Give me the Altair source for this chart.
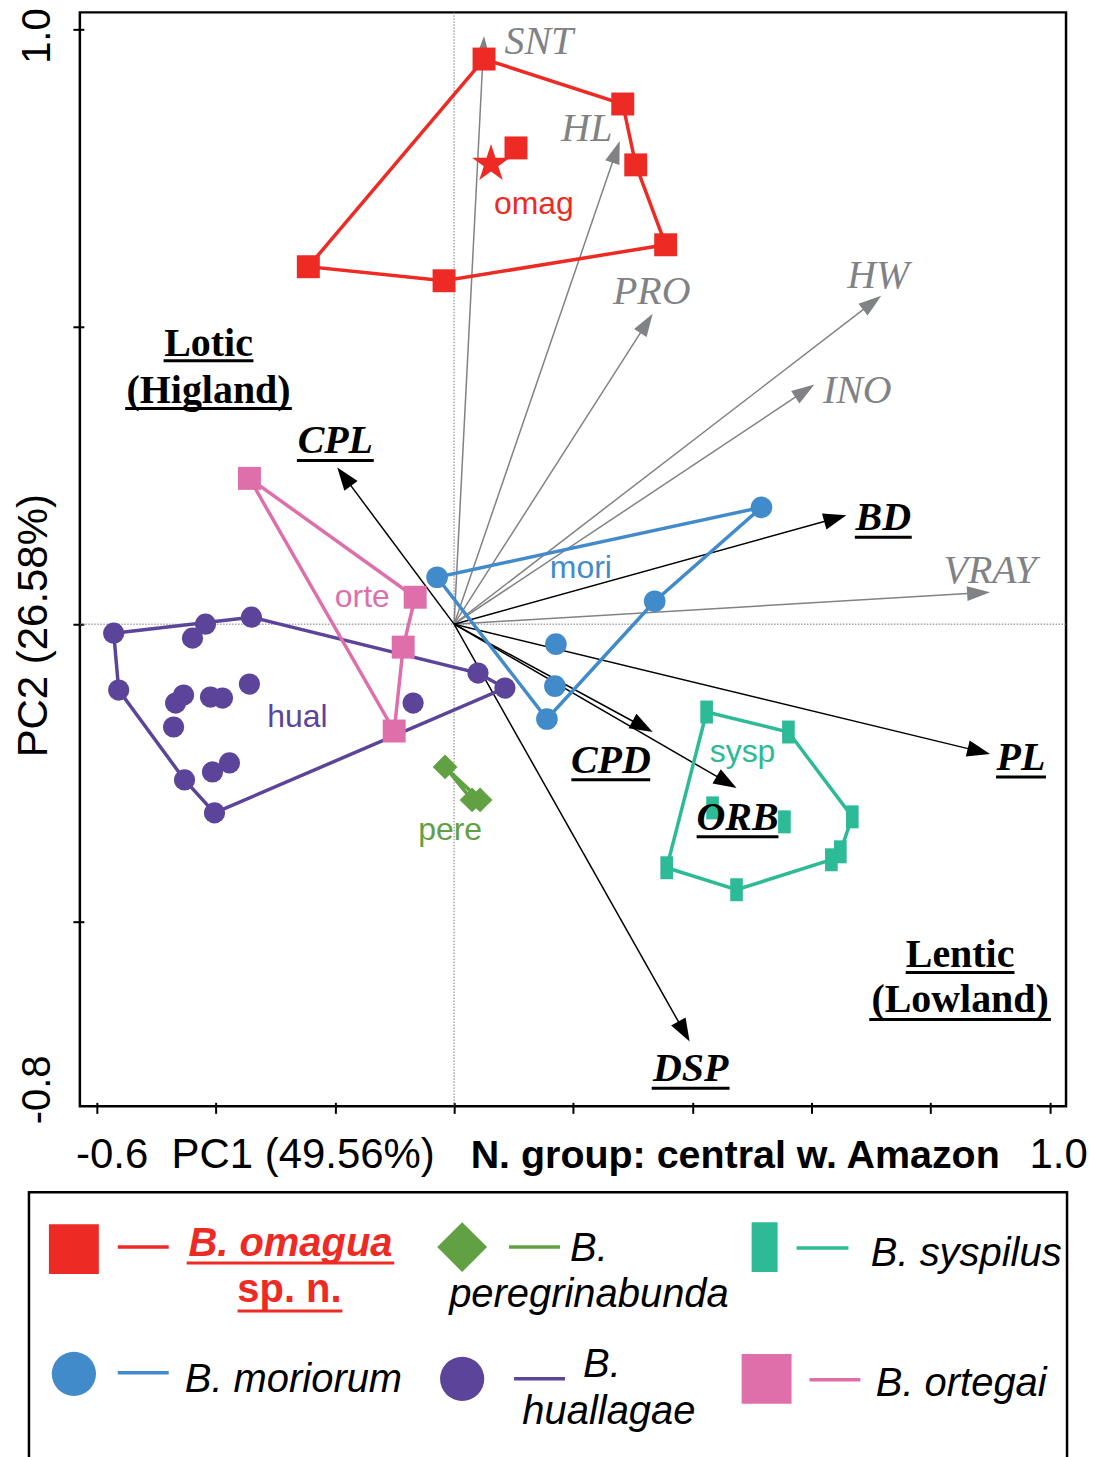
import math
import altair as alt
import pandas as pd

SERIF = "Liberation Serif"
SANS = "Liberation Sans"
GRAY = "#808285"

# ---------------- specimen scores (PC1, PC2) ----------------
GROUPS = ["omagua", "moriorum", "huallagae", "ortegai", "peregrinabunda", "syspilus"]
GROUP_COLORS = ["#ED2A24", "#428BCA", "#5B4499", "#DE6FAB", "#61A043", "#2DBA96"]

omagua_hull_x = [0.0503, 0.2831, 0.3049, 0.3551, -0.0168, -0.2446]
omagua_hull_y = [0.9505, 0.8749, 0.7725, 0.6381, 0.5776, 0.6012]
omagua_in_x = [0.1039]
omagua_in_y = [0.8010]
omagua_type_x = [0.0620]
omagua_type_y = [0.7741]

moriorum_hull_x = [-0.0285, 0.5159, 0.3367, 0.1558]
moriorum_hull_y = [0.0789, 0.1965, 0.0386, -0.1595]
moriorum_in_x = [0.1709, 0.1692]
moriorum_in_y = [-0.0336, -0.1041]

huallagae_hull_x = [-0.5712, -0.5628, -0.4523, -0.4020, 0.0854, 0.0402, -0.3400]
huallagae_hull_y = [-0.0151, -0.1109, -0.2620, -0.3174, -0.1075, -0.0823, 0.0118]
huallagae_in_x = [-0.4389, -0.4171, -0.4673, -0.4539, -0.4707, -0.4087, -0.3886,
                  -0.3434, -0.0687, -0.4054, -0.3769]
huallagae_in_y = [-0.0235, 0.0000, -0.1327, -0.1192, -0.1730, -0.1226, -0.1243,
                  -0.1008, -0.1327, -0.2485, -0.2334]

ortegai_hull_x = [-0.3434, -0.0653, -0.0854, -0.1005]
ortegai_hull_y = [0.2452, 0.0453, -0.0386, -0.1797]
ortegai_in_x = []
ortegai_in_y = []

peregrinabunda_hull_x = [-0.0151, 0.0302, 0.0436]
peregrinabunda_hull_y = [-0.2401, -0.2956, -0.2956]
peregrinabunda_in_x = []
peregrinabunda_in_y = []

syspilus_hull_x = [0.4238, 0.5611, 0.6683, 0.6482, 0.6332, 0.4740, 0.3568]
syspilus_hull_y = [-0.1478, -0.1814, -0.3241, -0.3829, -0.3963, -0.4467, -0.4097]
syspilus_in_x = [0.4338, 0.5544]
syspilus_in_y = [-0.3090, -0.3325]

# ---------------- variable loadings (arrow tips) ----------------
VAR_GRAY = ["SNT", "HL", "PRO", "HW", "INO", "VRAY"]
VAR_GRAY_X = [0.0503, 0.2781, 0.3333, 0.7169, 0.6047, 0.8995]
VAR_GRAY_Y = [0.9891, 0.8128, 0.5223, 0.5525, 0.4030, 0.0537]
VAR_BLACK = ["CPL", "BD", "PL", "CPD", "ORB", "DSP"]
VAR_BLACK_X = [-0.1960, 0.6583, 0.8995, 0.3333, 0.4740, 0.3953]
VAR_BLACK_Y = [0.2636, 0.1830, -0.2183, -0.1814, -0.2754, -0.7019]

LAB_GRAY_X = [0.1424, 0.2228, 0.3317, 0.7119, 0.6767, 0.8995]
LAB_GRAY_Y = [0.9589, 0.8128, 0.5390, 0.5659, 0.3728, 0.0688]
LAB_BLACK_X = [-0.1993, 0.7203, 0.9514, 0.2630, 0.4757, 0.3970]
LAB_BLACK_Y = [0.2871, 0.1578, -0.2451, -0.2501, -0.3458, -0.7689]

HABITAT_TEXT = ["Lotic", "(Higland)", "Lentic", "(Lowland)"]
HABITAT_X = [-0.4121, -0.4121, 0.8492, 0.8492]
HABITAT_Y = [0.4516, 0.3727, -0.5759, -0.6531]

GROUP_LABELS = ["omag", "mori", "hual", "orte", "pere", "sysp"]
GROUP_LABEL_X = [0.1340, 0.2127, -0.2630, -0.1541, -0.0067, 0.4841]
GROUP_LABEL_Y = [0.6900, 0.0772, -0.1729, 0.0285, -0.3626, -0.2317]
GROUP_LABEL_COLORS = ["#ED2A24", "#428BCA", "#5B4499", "#DE6FAB", "#61A043", "#2DBA96"]

Y_BOTTOM_LABEL = ["-0.8"]
Y_BOTTOM_VALUE = [-0.8]

# ---------------- layout / styles ----------------
X_DOMAIN = [-0.628, 1.027]
Y_DOMAIN = [-0.811, 1.029]
W, H = 988, 1096
PX_X = W / (X_DOMAIN[1] - X_DOMAIN[0])
PX_Y = H / (Y_DOMAIN[1] - Y_DOMAIN[0])

STAR = ("M0,-1L0.2245,-0.309L0.9511,-0.309L0.3633,0.118L0.5878,0.809L0,0.382"
        "L-0.5878,0.809L-0.3633,0.118L-0.9511,-0.309L-0.2245,-0.309Z")
SHAPES = {
    "omagua": ("square", 529),
    "moriorum": ("circle", 470),
    "huallagae": ("circle", 450),
    "ortegai": ("square", 529),
    "peregrinabunda": ("diamond", 620),
    "syspilus": ("M-0.55,-1H0.55V1H-0.55Z", 529),
}

UL_BLACK_W = [77, 57, 50, 79, 82, 78]
UL_HAB_W = [90, 167, 109, 182]
UL_HAB_GAP = [5, 6, 6, 7]

xs = alt.Scale(domain=X_DOMAIN, nice=False, zero=False)
ys = alt.Scale(domain=Y_DOMAIN, nice=False, zero=False)

X_AXIS = alt.Axis(
    values=[-0.6, -0.4, -0.2, 0.0, 0.2, 0.4, 0.6, 0.8, 1.0],
    labelExpr="abs(datum.value + 0.6) < 0.001 ? '-0.6\u00a0 PC1 (49.56%)' : (abs(datum.value - 1) < 0.001 ? '1.0' : '')",
    labelAlign="left", labelOffset=-21, labelBaseline="alphabetic",
    labelPadding=54, labelFont=SANS, labelFontSize=42, labelColor="black",
    labelOverlap=False, labelFlush=False, labelLimit=0,
    tickSize=11, tickWidth=2, tickColor="black",
    domain=False, grid=False, offset=-4,
    title="N. group: central w. Amazon", titleFont=SANS, titleFontSize=39.5,
    titleFontWeight="bold", titleColor="black", titleX=391, titleY=65,
    titleAlign="left", titleBaseline="alphabetic", titleLimit=0,
)
Y_AXIS = alt.Axis(
    values=[1.0, 0.5, 0.0, -0.5],
    labelExpr="datum.value > 0.9 ? '1.0' : ''",
    labelAngle=270, labelAlign="center", labelBaseline="alphabetic",
    labelPadding=23, labelFont=SANS, labelFontSize=40, labelColor="black",
    labelOffset=6, labelOverlap=False, labelFlush=False, labelLimit=0,
    tickSize=11, tickWidth=2, tickColor="black",
    domain=False, grid=False, offset=-4,
    title="PC2 (26.58%)", titleFont=SANS, titleFontSize=42, titleFontWeight="normal",
    titleColor="black", titleAngle=270, titleX=-37, titleY=614,
    titleAlign="center", titleBaseline="alphabetic", titleLimit=0,
)


def X(field):
    return alt.X(field, type="quantitative", scale=xs, axis=X_AXIS)


def Y(field):
    return alt.Y(field, type="quantitative", scale=ys, axis=Y_AXIS)


# ---------------- build tables ----------------
data = {
    "omagua": (omagua_hull_x, omagua_hull_y, omagua_in_x, omagua_in_y),
    "moriorum": (moriorum_hull_x, moriorum_hull_y, moriorum_in_x, moriorum_in_y),
    "huallagae": (huallagae_hull_x, huallagae_hull_y, huallagae_in_x, huallagae_in_y),
    "ortegai": (ortegai_hull_x, ortegai_hull_y, ortegai_in_x, ortegai_in_y),
    "peregrinabunda": (peregrinabunda_hull_x, peregrinabunda_hull_y, peregrinabunda_in_x, peregrinabunda_in_y),
    "syspilus": (syspilus_hull_x, syspilus_hull_y, syspilus_in_x, syspilus_in_y),
}
hull_rows, pt_rows = [], []
for g, c in zip(GROUPS, GROUP_COLORS):
    hx, hy, ix, iy = data[g]
    n = len(hx)
    for i in range(n + 1):
        hull_rows.append({"group": g, "color": c, "ord": i, "x": hx[i % n], "y": hy[i % n]})
    shp, sz = SHAPES[g]
    for x, y in list(zip(hx, hy)) + list(zip(ix, iy)):
        pt_rows.append({"group": g, "color": c, "shape": shp, "size": sz, "x": x, "y": y})
for x, y in zip(omagua_type_x, omagua_type_y):
    pt_rows.append({"group": "omagua", "color": GROUP_COLORS[0], "shape": STAR, "size": 1600, "x": x, "y": y})
hull_df = pd.DataFrame(hull_rows)
pts_df = pd.DataFrame(pt_rows)


def arrow_rows(names, tx, ty, color, head_len, half_w):
    rows = []
    path = "M0,-1L%.2f,1L-%.2f,1Z" % (half_w, half_w)
    for n, x, y in zip(names, tx, ty):
        px, py = x * PX_X, y * PX_Y
        L = math.hypot(px, py)
        ux, uy = px / L, py / L
        r = head_len / 2.0
        rows.append({
            "name": n, "color": color, "x0": 0.0, "y0": 0.0,
            "sx": x - 1.6 * r * ux / PX_X, "sy": y - 1.6 * r * uy / PX_Y,
            "hx": x - r * ux / PX_X, "hy": y - r * uy / PX_Y,
            "ang": math.degrees(math.atan2(ux, uy)) % 360,
            "shape": path, "size": head_len ** 2,
        })
    return rows


arr_df = pd.DataFrame(arrow_rows(VAR_GRAY, VAR_GRAY_X, VAR_GRAY_Y, GRAY, 23, 0.65)
                      + arrow_rows(VAR_BLACK, VAR_BLACK_X, VAR_BLACK_Y, "black", 23, 0.72))

gray_lab = pd.DataFrame({"t": VAR_GRAY, "x": LAB_GRAY_X, "y": LAB_GRAY_Y})
black_lab = pd.DataFrame({"t": VAR_BLACK, "x": LAB_BLACK_X, "y": LAB_BLACK_Y})
hab_lab = pd.DataFrame({"t": HABITAT_TEXT, "x": HABITAT_X, "y": HABITAT_Y})
grp_lab = pd.DataFrame({"t": GROUP_LABELS, "x": GROUP_LABEL_X, "y": GROUP_LABEL_Y,
                        "color": GROUP_LABEL_COLORS})
ybot_df = pd.DataFrame({"t": Y_BOTTOM_LABEL, "y": Y_BOTTOM_VALUE})

ul_rows = []
for x, y, w in zip(LAB_BLACK_X, LAB_BLACK_Y, UL_BLACK_W):
    ul_rows.append({"ux1": x - w / 2 / PX_X, "ux2": x + w / 2 / PX_X, "uy": y - 7 / PX_Y})
for x, y, w, gp in zip(HABITAT_X, HABITAT_Y, UL_HAB_W, UL_HAB_GAP):
    ul_rows.append({"ux1": x - w / 2 / PX_X, "ux2": x + w / 2 / PX_X, "uy": y - gp / PX_Y})
ul_df = pd.DataFrame(ul_rows)

zero_df = pd.DataFrame({"v": [0.0]})

# ---------------- main plot layers ----------------
zero_v = alt.Chart(zero_df).mark_rule(color="#777777", strokeWidth=1, strokeDash=[1.5, 1.5]).encode(x=X("v"))
zero_h = alt.Chart(zero_df).mark_rule(color="#777777", strokeWidth=1, strokeDash=[1.5, 1.5]).encode(y=Y("v"))

shafts = alt.Chart(arr_df).mark_rule(strokeWidth=1.5).encode(
    x=X("x0"), y=Y("y0"), x2="sx:Q", y2="sy:Q",
    color=alt.Color("color:N", scale=None))
heads = alt.Chart(arr_df).mark_point(filled=True, opacity=1, strokeWidth=0).encode(
    x=X("hx"), y=Y("hy"),
    shape=alt.Shape("shape:N", scale=None),
    angle=alt.Angle("ang:Q", scale=None),
    size=alt.Size("size:Q", scale=None),
    color=alt.Color("color:N", scale=None))

hulls = alt.Chart(hull_df).mark_line(strokeWidth=3.5).encode(
    x=X("x"), y=Y("y"), order="ord:Q", detail="group:N",
    color=alt.Color("color:N", scale=None))

points = alt.Chart(pts_df).mark_point(filled=True, opacity=1, strokeWidth=0).encode(
    x=X("x"), y=Y("y"),
    shape=alt.Shape("shape:N", scale=None),
    size=alt.Size("size:Q", scale=None),
    color=alt.Color("color:N", scale=None))

t_gray = alt.Chart(gray_lab).mark_text(font=SERIF, fontStyle="italic", fontSize=40, color=GRAY,
                                      align="center", baseline="alphabetic").encode(
    x=X("x"), y=Y("y"), text="t:N")
t_black = alt.Chart(black_lab).mark_text(font=SERIF, fontStyle="italic", fontWeight="bold", fontSize=40,
                                        color="black", align="center", baseline="alphabetic").encode(
    x=X("x"), y=Y("y"), text="t:N")
t_hab = alt.Chart(hab_lab).mark_text(font=SERIF, fontWeight="bold", fontSize=40, color="black",
                                    align="center", baseline="alphabetic").encode(
    x=X("x"), y=Y("y"), text="t:N")
t_grp = alt.Chart(grp_lab).mark_text(font=SANS, fontSize=32, align="center", baseline="alphabetic").encode(
    x=X("x"), y=Y("y"), text="t:N", color=alt.Color("color:N", scale=None))
unders = alt.Chart(ul_df).mark_rule(strokeWidth=3, color="black").encode(
    x=X("ux1"), x2="ux2:Q", y=Y("uy"))
ybot = alt.Chart(ybot_df).mark_text(font=SANS, fontSize=40, color="black", angle=270, dx=10,
                                    align="center", baseline="alphabetic").encode(
    x=alt.value(-30), y=Y("y"), text="t:N")

main = alt.layer(zero_v, zero_h, shafts, heads, hulls, points,
                 t_gray, t_black, t_hab, t_grp, unders, ybot)

# ---------------- legend (box-relative layout, px) ----------------
LEG_NAMES = ["B. omagua", "B. peregrinabunda", "B. syspilus", "B. moriorum", "B. huallagae", "B. ortegai"]
LEG_COLORS = ["#ED2A24", "#61A043", "#2DBA96", "#428BCA", "#5B4499", "#DE6FAB"]
LEG_SHAPES = ["square", "diamond", "M-0.52,-1H0.52V1H-0.52Z", "circle", "circle", "square"]
LEG_SIZES = [2500, 2500, 2500, 1963, 1963, 2500]
LEG_MX = [45, 434, 737, 45, 434, 739]
LEG_MY = [57, 55, 55, 182, 187, 187]
LEG_L1 = [89, 481, 769, 89, 486, 782]
LEG_L2 = [140, 532, 821, 140, 537, 833]
LEG_LY = [55, 55, 56, 181, 187, 188]

LEG_TXT_OMAGUA = ["B. omagua"]
LEG_TXT_SPN = ["sp. n."]
LEG_TXT_OTHER = ["B.", "peregrinabunda", "B. syspilus", "B. moriorum", "B.", "huallagae", "B. ortegai"]
LEG_TX_OTHER = [561, 561, 939, 265, 574, 581, 934]
LEG_TY_OTHER = [69, 115, 74, 200, 185, 232, 204]

LEG_TOP = H + 86
lx = alt.Scale(domain=[0, 1040], range=[-51, 989])
ly = alt.Scale(domain=[0, 270], range=[LEG_TOP, LEG_TOP + 270])


def LX(f):
    return alt.X(f, type="quantitative", scale=lx, axis=None)


def LY(f):
    return alt.Y(f, type="quantitative", scale=ly, axis=None)


box_df = pd.DataFrame({"bx1": [0], "bx2": [1040], "by1": [0], "by2": [300]})
leg_df = pd.DataFrame({"name": LEG_NAMES, "color": LEG_COLORS, "shape": LEG_SHAPES, "size": LEG_SIZES,
                       "mx": LEG_MX, "my": LEG_MY, "l1": LEG_L1, "l2": LEG_L2, "ly": LEG_LY})
om_df = pd.DataFrame({"t": LEG_TXT_OMAGUA, "lx": [262], "lyy": [64]})
spn_df = pd.DataFrame({"t": LEG_TXT_SPN, "lx": [261], "lyy": [110]})
oth_df = pd.DataFrame({"t": LEG_TXT_OTHER, "lx": LEG_TX_OTHER, "lyy": LEG_TY_OTHER})
leg_ul = pd.DataFrame({"ux1": [158, 209], "ux2": [366, 314], "uy": [71, 119]})

box = alt.Chart(box_df).mark_rect(fillOpacity=0, stroke="black", strokeWidth=2.5).encode(
    x=LX("bx1"), x2="bx2:Q", y=LY("by1"), y2="by2:Q")
leg_lines = alt.Chart(leg_df).mark_rule(strokeWidth=3.5).encode(
    x=LX("l1"), x2="l2:Q", y=LY("ly"), color=alt.Color("color:N", scale=None))
leg_marks = alt.Chart(leg_df).mark_point(filled=True, opacity=1, strokeWidth=0).encode(
    x=LX("mx"), y=LY("my"),
    shape=alt.Shape("shape:N", scale=None),
    size=alt.Size("size:Q", scale=None),
    color=alt.Color("color:N", scale=None))
leg_om = alt.Chart(om_df).mark_text(font=SANS, fontSize=40, fontStyle="italic", fontWeight="bold",
                                    color=LEG_COLORS[0], align="center", baseline="alphabetic").encode(
    x=LX("lx"), y=LY("lyy"), text="t:N")
leg_spn = alt.Chart(spn_df).mark_text(font=SANS, fontSize=40, fontWeight="bold",
                                      color=LEG_COLORS[0], align="center", baseline="alphabetic").encode(
    x=LX("lx"), y=LY("lyy"), text="t:N")
leg_oth = alt.Chart(oth_df).mark_text(font=SANS, fontSize=40, fontStyle="italic", color="black",
                                      align="center", baseline="alphabetic").encode(
    x=LX("lx"), y=LY("lyy"), text="t:N")
leg_under = alt.Chart(leg_ul).mark_rule(strokeWidth=3, color=LEG_COLORS[0]).encode(
    x=LX("ux1"), x2="ux2:Q", y=LY("uy"))

legend = alt.layer(box, leg_lines, leg_marks, leg_om, leg_spn, leg_oth, leg_under)

chart = alt.layer(main, legend).resolve_scale(x="independent", y="independent").properties(
    width=W, height=H, padding={"left": 5, "top": -2, "right": 0, "bottom": 5}, background="white"
).configure_view(stroke="black", strokeWidth=2.5)

chart.save("out.html", embed_options={"renderer": "svg", "actions": False})
